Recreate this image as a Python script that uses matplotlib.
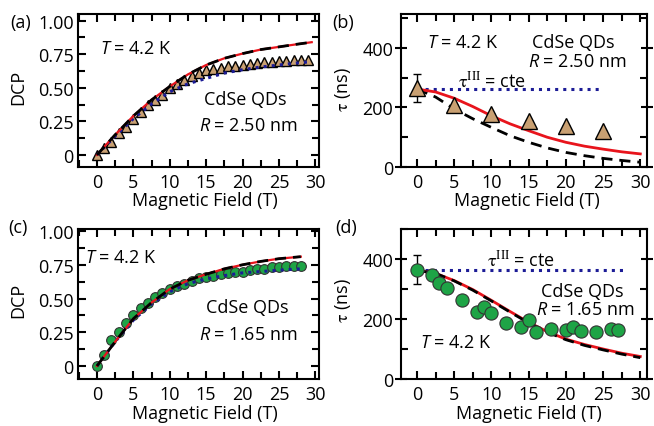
import numpy as np
import matplotlib.pyplot as plt
from matplotlib.ticker import MultipleLocator

plt.rcParams['font.family'] = ['Open Sans', 'DejaVu Sans']
plt.rcParams['mathtext.fontset'] = 'custom'
plt.rcParams['mathtext.rm'] = 'Open Sans'
plt.rcParams['mathtext.it'] = 'Open Sans:italic'
plt.rcParams['axes.linewidth'] = 1.5

# ---- data ----
# (a) DCP, R = 2.50 nm
field_a = np.arange(0, 30)
dcp_a = [0.0, 0.05, 0.10, 0.16, 0.21, 0.27, 0.32, 0.37, 0.41, 0.45,
         0.50, 0.53, 0.56, 0.585, 0.61, 0.63, 0.64, 0.65, 0.66, 0.665,
         0.67, 0.68, 0.685, 0.69, 0.695, 0.70, 0.70, 0.705, 0.71, 0.71]
curve_b_a = [0, 1.25, 2.5, 5, 7.5, 10, 12.5, 15, 17.5, 20, 22.5, 25, 27.5, 29.5]
dcp_model_a = [0, 0.075, 0.15, 0.29, 0.41, 0.51, 0.60, 0.67, 0.72, 0.755, 0.785, 0.805, 0.825, 0.84]
dcp_cte_a = [0, 0.07, 0.14, 0.27, 0.38, 0.47, 0.53, 0.57, 0.61, 0.635, 0.655, 0.67, 0.685, 0.695]

# (b) lifetime, R = 2.50 nm
field_b = [0, 5, 10, 15, 20, 25]
tau_b = [265, 208, 178, 156, 139, 122]
tau_err_b = [48, 0, 0, 0, 0, 0]
curve_b_b = [0, 2.5, 5, 7.5, 10, 12.5, 15, 17.5, 20, 22.5, 25, 27.5, 30]
tau_red_b = [262, 252, 231, 203, 172, 145, 122, 100, 83, 70, 60, 51, 44]
tau_black_b = [262, 235, 195, 162, 133, 105, 83, 64, 49, 38, 29, 22, 16]
tau_cte_b = 262
cte_end_b = 25

# (c) DCP, R = 1.65 nm
field_c = np.arange(0, 29)
dcp_c = [0.0, 0.08, 0.19, 0.25, 0.32, 0.38, 0.43, 0.47, 0.51, 0.54,
         0.57, 0.59, 0.61, 0.63, 0.65, 0.66, 0.67, 0.68, 0.69, 0.70,
         0.70, 0.71, 0.72, 0.72, 0.73, 0.73, 0.74, 0.74, 0.74]
curve_b_c = [0, 1.25, 2.5, 5, 7.5, 10, 12.5, 15, 17.5, 20, 22.5, 25, 28]
dcp_model_c = [0, 0.09, 0.18, 0.35, 0.47, 0.57, 0.635, 0.68, 0.72, 0.75, 0.775, 0.795, 0.81]
dcp_cte_c = [0, 0.09, 0.18, 0.34, 0.46, 0.55, 0.61, 0.645, 0.67, 0.69, 0.70, 0.71, 0.72]

# (d) lifetime, R = 1.65 nm
field_d = [0, 2, 3, 4, 6, 8, 9, 10, 12, 14, 15, 16, 18, 20, 21, 22, 24, 26, 27]
tau_d = [364, 347, 321, 305, 263, 222, 239, 219, 186, 172, 196, 156,
         167, 165, 173, 160, 158, 167, 165]
curve_b_d = [0, 2.5, 5, 7.5, 10, 12.5, 15, 17.5, 20, 22.5, 25, 27.5, 30]
tau_red_d = [362, 352, 328, 298, 262, 225, 189, 158, 133, 115, 100, 86, 75]
tau_black_d = [362, 352, 327, 296, 260, 223, 187, 156, 131, 112, 97, 83, 71]
tau_cte_d = 362
cte_end_d = 28

tan = '#c9a072'
green = '#1ea446'
red = '#e8141c'
navy = '#1c1c96'
fs = 13

fig = plt.figure(figsize=(6.54, 4.27), dpi=100)
W, H = 654, 427


def make_ax(l, r, t, b):
    return fig.add_axes([l / W, 1 - b / H, (r - l) / W, (b - t) / H])


ax_a = make_ax(78, 319, 15, 168)
ax_b = make_ax(401, 647, 15, 168)
ax_c = make_ax(78, 319, 230, 380)
ax_d = make_ax(401, 647, 230, 380)


def style_dcp(ax):
    ax.set_xlim(-2.6, 30.5)
    ax.xaxis.set_major_locator(MultipleLocator(5))
    ax.xaxis.set_minor_locator(MultipleLocator(2.5))
    ax.yaxis.set_minor_locator(MultipleLocator(0.125))
    ax.set_yticks([0, 0.25, 0.5, 0.75, 1.0])
    ax.set_yticklabels(['0', '0.25', '0.50', '0.75', '1.00'])
    ax.tick_params(which='both', direction='in', top=True, right=True,
                   width=1.5, labelsize=fs)
    ax.tick_params(which='major', length=6, pad=3)
    ax.tick_params(which='minor', length=5)
    ax.tick_params(axis='x', which='major', pad=4)


def style_tau(ax):
    ax.set_xlim(-2.15, 30.9)
    ax.xaxis.set_major_locator(MultipleLocator(5))
    ax.xaxis.set_minor_locator(MultipleLocator(2.5))
    ax.yaxis.set_minor_locator(MultipleLocator(100))
    ax.tick_params(which='both', direction='in', top=True, right=True,
                   width=1.5, labelsize=fs)
    ax.tick_params(which='major', length=6)
    ax.tick_params(which='minor', length=5)
    ax.tick_params(axis='y', which='major', left=True, direction='inout', length=9, pad=1)
    ax.tick_params(axis='x', which='major', pad=4)


# (a)
ax = ax_a
ax.plot(field_a, dcp_a, '^', ms=7, mfc=tan, mec='black', mew=1.0, zorder=2)
ax.plot(curve_b_a, dcp_cte_a, ':', color=navy, lw=2.2, zorder=3)
ax.plot(curve_b_a, dcp_model_a, '-', color=red, lw=1.6, zorder=3)
ax.plot(curve_b_a, dcp_model_a, '--', color='black', lw=2, dashes=(4, 2.5), zorder=4)
style_dcp(ax)
ax.set_ylim(-0.09, 1.05)
ax.text(0.4, 0.80, '$T$ = 4.2 K', fontsize=fs, va='center')
ax.text(20.4, 0.42, 'CdSe QDs', fontsize=fs, ha='center', va='center')
ax.text(20.8, 0.22, '$R$ = 2.50 nm', fontsize=fs, ha='center', va='center')

# (b)
ax = ax_b
ax.plot([0, cte_end_b], [tau_cte_b, tau_cte_b], ':', color=navy, lw=2.2)
ax.plot(curve_b_b, tau_black_b, '--', color='black', lw=2, dashes=(4, 2.5))
ax.plot(curve_b_b, tau_red_b, '-', color=red, lw=2)
ax.errorbar(field_b, tau_b, yerr=tau_err_b, fmt='^', ms=11, mfc=tan, mec='black',
            mew=1.0, ecolor='black', elinewidth=1, capsize=3, zorder=5)
style_tau(ax)
ax.set_ylim(0, 514)
ax.set_yticks([0, 200, 400])
ax.text(1.3, 419, '$T$ = 4.2 K', fontsize=fs, va='center')
ax.text(21, 419, 'CdSe QDs', fontsize=fs, ha='center', va='center')
ax.text(21.5, 357, '$R$ = 2.50 nm', fontsize=fs, ha='center', va='center')
ax.text(5.5, 290, r'$\mathrm{\tau}^{\rm III}$ = cte', fontsize=fs, va='center',
        math_fontfamily='stix')

# (c)
ax = ax_c
ax.plot(field_c, dcp_c, 'o', ms=7, mfc=green, mec='#333333', mew=0.8, zorder=2)
ax.plot(curve_b_c, dcp_cte_c, ':', color=navy, lw=2.2, zorder=3)
ax.plot(curve_b_c, dcp_model_c, '-', color=red, lw=1.6, zorder=3)
ax.plot(curve_b_c, dcp_model_c, '--', color='black', lw=2, dashes=(4, 2.5), zorder=4)
style_dcp(ax)
ax.set_ylim(-0.096, 1.015)
ax.text(-1.65, 0.81, '$T$ = 4.2 K', fontsize=fs, va='center')
ax.text(20.6, 0.435, 'CdSe QDs', fontsize=fs, ha='center', va='center')
ax.text(20.8, 0.237, '$R$ = 1.65 nm', fontsize=fs, ha='center', va='center')

# (d)
ax = ax_d
ax.plot([0, cte_end_d], [tau_cte_d, tau_cte_d], ':', color=navy, lw=2.2)
ax.plot(curve_b_d, tau_red_d, '-', color=red, lw=2)
ax.plot(curve_b_d, tau_black_d, '--', color='black', lw=2, dashes=(4, 2.5))
ax.errorbar([0], [tau_d[0]], yerr=[48], fmt='none', ecolor='black',
            elinewidth=1, capsize=3, zorder=4)
ax.plot(field_d, tau_d, 'o', ms=9.5, mfc=green, mec='#333333', mew=0.8, zorder=5)
style_tau(ax)
ax.set_ylim(0, 500)
ax.set_yticks([0, 200, 400])
ax.text(9.4, 400, r'$\mathrm{\tau}^{\rm III}$ = cte', fontsize=fs, va='center',
        math_fontfamily='stix')
ax.text(22.2, 294, 'CdSe QDs', fontsize=fs, ha='center', va='center')
ax.text(22.6, 233, '$R$ = 1.65 nm', fontsize=fs, ha='center', va='center')
ax.text(0.4, 122, '$T$ = 4.2 K', fontsize=fs, va='center')

for ax, xc, yc in [(ax_a, 0.525, -0.16), (ax_b, 0.513, -0.16),
                   (ax_c, 0.525, -0.165), (ax_d, 0.518, -0.165)]:
    ax.set_xlabel('Magnetic Field (T)', fontsize=fs)
    ax.xaxis.set_label_coords(xc, yc)

# y labels placed in figure pixels
fig.text(18 / W, 1 - 87 / H, 'DCP', fontsize=fs, rotation=90, ha='center', va='center')
fig.text(18 / W, 1 - 300 / H, 'DCP', fontsize=fs, rotation=90, ha='center', va='center')
fig.text(343 / W, 1 - 90 / H, r'$\mathrm{\tau}$ (ns)', fontsize=fs, rotation=90,
         ha='center', va='center', math_fontfamily='stix')
fig.text(343 / W, 1 - 301 / H, r'$\mathrm{\tau}$ (ns)', fontsize=fs, rotation=90,
         ha='center', va='center', math_fontfamily='stix')

fig.text(10 / W, 1 - 23 / H, '(a)', fontsize=fs, va='center')
fig.text(332 / W, 1 - 23 / H, '(b)', fontsize=fs, va='center')
fig.text(8 / W, 1 - 228 / H, '(c)', fontsize=fs, va='center')
fig.text(335 / W, 1 - 228 / H, '(d)', fontsize=fs, va='center')

fig.savefig('out.png', dpi=100)
